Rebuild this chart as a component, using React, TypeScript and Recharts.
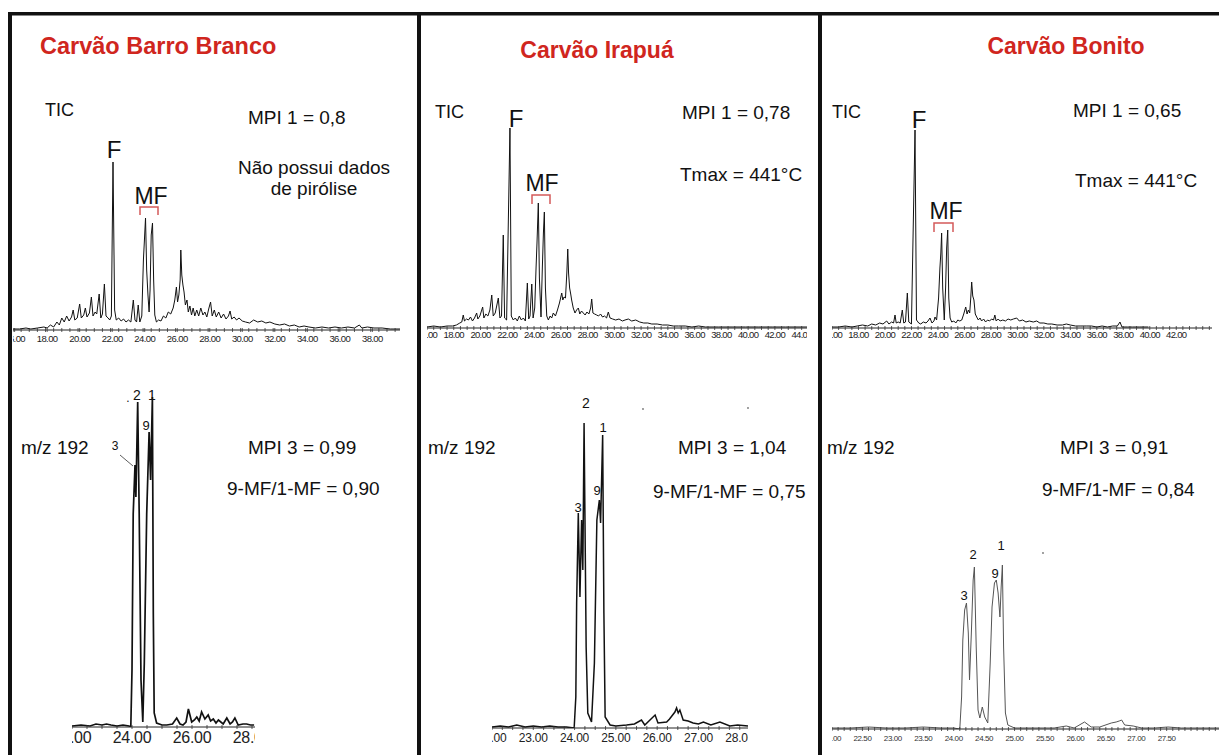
import React from 'react';
import { LineChart, Line, XAxis, YAxis } from 'recharts';

// ---------- DATA (retention time in min, relative abundance) ----------
// TIC — Carvão Barro Branco
const TIC_BB: number[][] = [
  [15.9, 1], [16.3, 1], [16.7, 2], [17.0, 1], [17.4, 2], [17.8, 3], [18.0, 2], [18.2, 5], [18.4, 3], [18.6, 8],
  [18.75, 5], [18.9, 12], [19.05, 8], [19.2, 14], [19.35, 9], [19.5, 13], [19.6, 20], [19.7, 10], [19.85, 12], [20.0, 26],
  [20.1, 12], [20.25, 15], [20.35, 22], [20.45, 13], [20.6, 17], [20.72, 33], [20.82, 14], [20.95, 18], [21.05, 16], [21.2, 36],
  [21.3, 12], [21.4, 16], [21.52, 46], [21.62, 14], [21.75, 12], [21.85, 10], [21.95, 14], [22.05, 168], [22.15, 20], [22.25, 10],
  [22.4, 12], [22.55, 9], [22.7, 11], [22.85, 8], [23.0, 10], [23.15, 8], [23.3, 30], [23.4, 10], [23.5, 8], [23.6, 25],
  [23.7, 8], [23.82, 14], [23.92, 70], [23.97, 86], [24.05, 112], [24.12, 60], [24.2, 35], [24.27, 18], [24.33, 40], [24.4, 95],
  [24.48, 107], [24.55, 50], [24.62, 15], [24.72, 8], [24.85, 10], [25.0, 9], [25.15, 14], [25.3, 12], [25.45, 18], [25.6, 16],
  [25.75, 22], [25.85, 30], [25.95, 43], [26.02, 28], [26.1, 35], [26.18, 50], [26.22, 80], [26.28, 55], [26.35, 45], [26.42, 38],
  [26.5, 25], [26.6, 30], [26.68, 18], [26.78, 24], [26.88, 15], [26.98, 22], [27.08, 14], [27.2, 20], [27.32, 14], [27.45, 22],
  [27.58, 15], [27.7, 18], [27.82, 13], [27.95, 22], [28.05, 28], [28.15, 14], [28.28, 20], [28.4, 13], [28.55, 18], [28.7, 12],
  [28.85, 16], [29.0, 11], [29.15, 14], [29.25, 19], [29.35, 11], [29.5, 13], [29.65, 10], [29.8, 12], [30.0, 9], [30.2, 8],
  [30.45, 7], [30.7, 10], [30.95, 8], [31.2, 9], [31.45, 7], [31.7, 8], [32.0, 6], [32.3, 5], [32.6, 6], [32.9, 4],
  [33.2, 5], [33.5, 3], [33.8, 4], [34.1, 3], [34.5, 2], [34.9, 3], [35.3, 2], [35.7, 3], [36.1, 2], [36.5, 3],
  [36.9, 2], [37.2, 5], [37.35, 2], [37.7, 3], [38.1, 2], [38.6, 2], [39.1, 1], [39.7, 1],
];

// TIC — Carvão Irapuá
const TIC_IR: number[][] = [
  [16.0, 1], [16.5, 2], [17.0, 1], [17.5, 2], [17.9, 2], [18.2, 3], [18.45, 5], [18.6, 6], [18.71, 13], [18.8, 7],
  [18.95, 9], [19.1, 8], [19.25, 11], [19.4, 7], [19.55, 10], [19.71, 15], [19.8, 9], [19.95, 12], [20.16, 21], [20.25, 10],
  [20.4, 14], [20.55, 12], [20.7, 18], [20.84, 33], [20.95, 12], [21.1, 15], [21.33, 30], [21.45, 10], [21.57, 12], [21.7, 93],
  [21.8, 10], [21.95, 8], [22.2, 200], [22.3, 12], [22.45, 8], [22.6, 10], [22.75, 7], [22.9, 12], [23.05, 8], [23.2, 10],
  [23.35, 7], [23.5, 45], [23.6, 9], [23.7, 12], [23.83, 44], [23.93, 10], [24.05, 20], [24.15, 60], [24.22, 85], [24.32, 125],
  [24.4, 50], [24.52, 11], [24.62, 60], [24.7, 95], [24.77, 116], [24.85, 40], [24.95, 12], [25.07, 8], [25.2, 12], [25.32, 10],
  [25.44, 15], [25.6, 12], [25.75, 18], [25.9, 25], [26.07, 35], [26.15, 28], [26.24, 31], [26.35, 30], [26.45, 55], [26.52, 79],
  [26.58, 55], [26.66, 40], [26.74, 34], [26.81, 28], [26.93, 20], [27.06, 15], [27.18, 18], [27.31, 20], [27.42, 14], [27.55, 17],
  [27.68, 15], [27.82, 13], [27.95, 16], [28.1, 14], [28.23, 20], [28.31, 29], [28.4, 15], [28.53, 14], [28.68, 13], [28.82, 12],
  [28.97, 14], [29.12, 11], [29.27, 12], [29.42, 10], [29.55, 16], [29.68, 10], [29.88, 9], [30.1, 8], [30.35, 9], [30.6, 7],
  [30.8, 8], [31.05, 9], [31.3, 7], [31.6, 8], [31.9, 6], [32.2, 5], [32.5, 5], [32.8, 4], [33.2, 4], [33.6, 3],
  [34.0, 3], [34.4, 2], [34.8, 2], [35.3, 2], [35.8, 1], [36.3, 2], [36.8, 1], [37.3, 1], [37.8, 1], [38.8, 1],
  [39.8, 1], [40.8, 1], [41.8, 1], [42.8, 1], [44.4, 1],
];

// TIC — Carvão Bonito
const TIC_BO: number[][] = [
  [16.0, 1], [16.5, 1], [17.0, 2], [17.5, 1], [17.9, 2], [18.3, 3], [18.7, 2], [19.0, 4], [19.3, 3], [19.6, 5],
  [19.85, 4], [20.13, 7], [20.3, 4], [20.5, 6], [20.65, 5], [20.76, 13], [20.85, 5], [21.0, 6], [21.15, 5], [21.31, 18],
  [21.42, 5], [21.55, 6], [21.69, 35], [21.8, 6], [22.0, 4], [22.27, 198], [22.38, 8], [22.55, 5], [22.7, 4], [22.9, 6],
  [23.1, 5], [23.25, 7], [23.4, 10], [23.55, 5], [23.7, 7], [23.78, 11], [23.9, 8], [24.05, 30], [24.15, 60], [24.22, 75],
  [24.28, 95], [24.36, 40], [24.48, 8], [24.58, 40], [24.66, 80], [24.74, 98], [24.82, 30], [24.92, 10], [25.04, 6], [25.2, 7],
  [25.35, 5], [25.5, 8], [25.65, 7], [25.8, 8], [25.95, 14], [26.1, 21], [26.2, 14], [26.3, 18], [26.4, 15], [26.48, 30],
  [26.55, 46], [26.63, 32], [26.72, 28], [26.82, 14], [26.93, 11], [27.05, 8], [27.18, 10], [27.3, 7], [27.45, 9], [27.6, 6],
  [27.75, 8], [27.9, 7], [28.05, 9], [28.2, 8], [28.3, 13], [28.4, 7], [28.55, 9], [28.7, 7], [28.9, 8], [29.1, 7],
  [29.3, 9], [29.5, 8], [29.7, 9], [29.95, 10], [30.15, 7], [30.4, 8], [30.65, 6], [30.9, 7], [31.2, 6], [31.46, 7],
  [31.7, 5], [32.0, 5], [32.3, 4], [32.6, 4], [33.0, 3], [33.4, 3], [33.7, 4], [34.0, 3], [34.4, 2], [34.8, 2],
  [35.2, 2], [35.6, 2], [36.0, 1], [36.4, 2], [36.8, 1], [37.2, 2], [37.55, 2], [37.75, 6], [37.9, 1], [38.3, 1],
  [38.7, 1], [39.2, 1], [39.9, 1],
];

// m/z 192 — Carvão Barro Branco
const MZ_BB: number[][] = [
  [22.0, 1], [22.3, 2], [22.6, 1], [22.8, 3], [23.0, 2], [23.15, 3], [23.3, 2], [23.5, 1], [23.7, 2], [23.9, 1],
  [23.96, 0], [24.0, 57], [24.04, 213], [24.1, 262], [24.13, 230], [24.19, 325], [24.24, 213], [24.3, 47], [24.36, 5], [24.41, 64],
  [24.49, 213], [24.57, 295], [24.62, 247], [24.68, 330], [24.71, 114], [24.74, 14], [24.82, 4], [25.0, 2], [25.16, 2], [25.35, 3],
  [25.49, 9], [25.6, 3], [25.7, 2], [25.8, 5], [25.88, 18], [25.99, 5], [26.08, 7], [26.16, 10], [26.24, 6], [26.32, 15],
  [26.43, 8], [26.54, 12], [26.62, 6], [26.71, 8], [26.8, 4], [26.88, 7], [27.04, 3], [27.16, 9], [27.27, 3], [27.35, 5],
  [27.43, 9], [27.54, 2], [27.7, 3], [27.82, 3], [27.95, 2], [28.07, 2],
];

// m/z 192 — Carvão Irapuá
const MZ_IR: number[][] = [
  [22.0, 1], [22.2, 2], [22.4, 1], [22.6, 3], [22.8, 1], [23.0, 2], [23.2, 1], [23.4, 2], [23.6, 1], [23.8, 1],
  [23.99, 0], [24.03, 31], [24.05, 125], [24.09, 215], [24.13, 131], [24.17, 208], [24.2, 158], [24.23, 305], [24.28, 81], [24.32, 15],
  [24.41, 6], [24.48, 65], [24.54, 208], [24.6, 228], [24.63, 205], [24.68, 293], [24.71, 115], [24.74, 11], [24.86, 3], [25.0, 2],
  [25.26, 3], [25.45, 4], [25.62, 8], [25.7, 3], [25.95, 13], [26.02, 5], [26.23, 6], [26.3, 9], [26.43, 16], [26.47, 20],
  [26.51, 15], [26.55, 18], [26.63, 8], [26.75, 7], [26.87, 5], [27.0, 4], [27.12, 6], [27.3, 3], [27.52, 6], [27.76, 2],
  [27.95, 3], [28.2, 2],
];

// m/z 192 — Carvão Bonito
const MZ_BO: number[][] = [
  [22.0, 1], [22.3, 1], [22.6, 2], [22.9, 1], [23.2, 1], [23.5, 2], [23.8, 1], [24.0, 1], [24.1, 0], [24.13, 32],
  [24.15, 89], [24.18, 119], [24.21, 126], [24.24, 96], [24.26, 49], [24.29, 96], [24.32, 149], [24.34, 162], [24.37, 82], [24.4, 19],
  [24.43, 11], [24.47, 22], [24.51, 12], [24.56, 6], [24.6, 66], [24.63, 122], [24.67, 146], [24.7, 149], [24.73, 136], [24.76, 112],
  [24.78, 142], [24.8, 164], [24.82, 82], [24.85, 16], [24.89, 4], [25.0, 1], [25.3, 1], [25.65, 1], [25.85, 3], [25.98, 1],
  [26.15, 7], [26.26, 2], [26.4, 2], [26.59, 6], [26.67, 7], [26.72, 8], [26.76, 9], [26.81, 4], [26.95, 3], [27.09, 1],
  [27.3, 1], [27.52, 2], [27.74, 1], [28.0, 1], [28.36, 1],
];

// axis tick labels
const TIC_BB_LABELS = [16, 18, 20, 22, 24, 26, 28, 30, 32, 34, 36, 38];
const TIC_IR_LABELS = [16, 18, 20, 22, 24, 26, 28, 30, 32, 34, 36, 38, 40, 42, 44];
const TIC_BO_LABELS = [16, 18, 20, 22, 24, 26, 28, 30, 32, 34, 36, 38, 40, 42];
const MZ_BB_LABELS = [22, 24, 26, 28];
const MZ_IR_LABELS = [22, 23, 24, 25, 26, 27, 28];
const MZ_BO_LABELS = [22, 22.5, 23, 23.5, 24, 24.5, 25, 25.5, 26, 26.5, 27, 27.5];

const PANEL_TITLES = ['Carvão Barro Branco', 'Carvão Irapuá', 'Carvão Bonito'];
const MPI1 = ['MPI 1 = 0,8', 'MPI 1 = 0,78', 'MPI 1 = 0,65'];
const TMAX = ['', 'Tmax = 441°C', 'Tmax = 441°C'];
const MPI3 = ['MPI 3 = 0,99', 'MPI 3 = 1,04', 'MPI 3 = 0,91'];
const RATIO = ['9-MF/1-MF = 0,90', '9-MF/1-MF = 0,75', '9-MF/1-MF = 0,84'];

// ---------- helpers ----------
const FONT = '"Liberation Sans", Arial, Helvetica, sans-serif';
const RED = '#d0261e';

const toRows = (pairs: number[][]) => pairs.map(([t, v]) => ({ t, v }));

function buildTicks(domain: [number, number], step: number, labels: number[]) {
  const out: number[] = [];
  const n = Math.floor((domain[1] - domain[0]) / step + 1e-6);
  for (let i = 0; i <= n; i++) out.push(Math.round((domain[0] + i * step) * 1000) / 1000);
  labels.forEach((l) => {
    if (l >= domain[0] - 1e-6 && l <= domain[1] + 1e-6 && !out.some((o) => Math.abs(o - l) < 1e-6)) out.push(l);
  });
  return out.sort((a, b) => a - b);
}

type ChromProps = {
  left: number; top: number; width: number; plotH: number; axisH: number;
  domain: [number, number]; yMax: number; pairs: number[][];
  stroke: string; strokeWidth: number; labels: number[]; minorStep: number;
  fontSize: number; labelDy: number; spacing: number; labelColor: string;
};

function Chrom(p: ChromProps) {
  const data = toRows(p.pairs);
  const ticks = buildTicks(p.domain, p.minorStep, p.labels);
  const renderTick = (tp: any) => {
    const { x, y, payload } = tp;
    const v = payload.value as number;
    const isLabel = p.labels.some((m) => Math.abs(m - v) < 1e-6);
    return (
      <g key={`t-${v}`}>
        <line x1={x} x2={x} y1={y - 2} y2={y + 2} stroke="#333" strokeWidth={0.8} />
        {isLabel && (
          <text x={x} y={y + p.labelDy} textAnchor="middle" fontSize={p.fontSize} fill={p.labelColor}
            letterSpacing={p.spacing} fontFamily={FONT}>{v.toFixed(2)}</text>
        )}
      </g>
    );
  };
  return (
    <div style={{ position: 'absolute', left: p.left, top: p.top, width: p.width, height: p.plotH + p.axisH, overflow: 'hidden' }}>
      <LineChart width={p.width} height={p.plotH + p.axisH} data={data} margin={{ top: 0, right: 0, bottom: 0, left: 0 }}>
        <XAxis dataKey="t" type="number" domain={p.domain} allowDataOverflow ticks={ticks} interval={0}
          height={p.axisH} tickSize={0} tickMargin={0} tickLine={false}
          axisLine={{ stroke: '#222', strokeWidth: 1 }} tick={renderTick} />
        <YAxis hide domain={[0, p.yMax]} allowDataOverflow />
        <Line type="linear" dataKey="v" stroke={p.stroke} strokeWidth={p.strokeWidth} dot={false}
          isAnimationActive={false} />
      </LineChart>
    </div>
  );
}

function T(props: { x: number; y: number; size: number; anchor?: 'start' | 'middle' | 'end'; color?: string; bold?: boolean; children: React.ReactNode }) {
  return (
    <text x={props.x} y={props.y} fontSize={props.size} textAnchor={props.anchor || 'start'} dominantBaseline="central"
      fill={props.color || '#111'} fontWeight={props.bold ? 'bold' : 'normal'} fontFamily={FONT}>{props.children}</text>
  );
}

function Bracket({ x1, x2, y1, y2 }: { x1: number; x2: number; y1: number; y2: number }) {
  return <polyline points={`${x1},${y2} ${x1},${y1} ${x2},${y1} ${x2},${y2}`} fill="none" stroke="#d45a5a" strokeWidth={1.5} />;
}

export default function App() {
  return (
    <div style={{ position: 'absolute', left: 0, top: 0, width: 1219, height: 755, background: '#fff', overflow: 'hidden', fontFamily: FONT }}>
      {/* TIC */}
      <Chrom left={13} top={140} width={387} plotH={190} axisH={22} domain={[15.9, 39.7]} yMax={190} pairs={TIC_BB}
        stroke="#111" strokeWidth={1} labels={TIC_BB_LABELS} minorStep={0.5} fontSize={9.5} labelDy={12} spacing={-0.6} labelColor="#222" />
      <Chrom left={427} top={120} width={380} plotH={208} axisH={22} domain={[16, 44.4]} yMax={208} pairs={TIC_IR}
        stroke="#111" strokeWidth={1} labels={TIC_IR_LABELS} minorStep={0.5} fontSize={9.5} labelDy={10} spacing={-0.7} labelColor="#222" />
      <Chrom left={832} top={120} width={380} plotH={208} axisH={22} domain={[16, 44.7]} yMax={208} pairs={TIC_BO}
        stroke="#111" strokeWidth={1} labels={TIC_BO_LABELS} minorStep={0.5} fontSize={9.5} labelDy={10} spacing={-0.7} labelColor="#222" />
      {/* m/z 192 */}
      <Chrom left={72} top={390} width={183} plotH={337} axisH={26} domain={[22, 28.1]} yMax={337} pairs={MZ_BB}
        stroke="#111" strokeWidth={1.7} labels={MZ_BB_LABELS} minorStep={0.5} fontSize={16} labelDy={16} spacing={-0.3} labelColor="#222" />
      <Chrom left={492} top={395} width={256} plotH={333} axisH={26} domain={[22, 28.2]} yMax={333} pairs={MZ_IR}
        stroke="#111" strokeWidth={1.5} labels={MZ_IR_LABELS} minorStep={0.25} fontSize={12} labelDy={14} spacing={-0.2} labelColor="#222" />
      <Chrom left={832} top={395} width={387} plotH={334} axisH={26} domain={[22, 28.36]} yMax={334} pairs={MZ_BO}
        stroke="#555" strokeWidth={1} labels={MZ_BO_LABELS} minorStep={0.1} fontSize={8} labelDy={12} spacing={-0.4} labelColor="#333" />

      <svg width={1219} height={755} style={{ position: 'absolute', left: 0, top: 0, pointerEvents: 'none' }}>
        {/* frame */}
        <rect x={8} y={12} width={1211} height={3.5} fill="#111" />
        <rect x={8} y={12} width={4} height={743} fill="#111" />
        <rect x={417} y={12} width={4} height={743} fill="#111" />
        <rect x={818} y={12} width={4} height={743} fill="#111" />

        {/* titles */}
        <T x={40} y={46} size={23.5} bold color={RED}>{PANEL_TITLES[0]}</T>
        <T x={597} y={50} size={23} bold color={RED} anchor="middle">{PANEL_TITLES[1]}</T>
        <T x={1066} y={46} size={23} bold color={RED} anchor="middle">{PANEL_TITLES[2]}</T>

        {/* panel 1 */}
        <T x={45} y={110} size={18}>TIC</T>
        <T x={248} y={117} size={19}>{MPI1[0]}</T>
        <T x={314} y={167} size={19} anchor="middle">Não possui dados</T>
        <T x={314} y={188} size={19} anchor="middle">de pirólise</T>
        <T x={114} y={149} size={24} anchor="middle">F</T>
        <T x={151} y={196} size={23} anchor="middle">MF</T>
        <Bracket x1={140} x2={158} y1={207} y2={215} />
        <T x={21} y={447} size={19}>m/z 192</T>
        <T x={248} y={447} size={19}>{MPI3[0]}</T>
        <T x={227} y={488} size={19}>{RATIO[0]}</T>
        <T x={115} y={446} size={12} anchor="middle">3</T>
        <line x1={120} y1={455} x2={133} y2={466} stroke="#333" strokeWidth={0.8} />
        <T x={128} y={398} size={12} anchor="middle">.</T>
        <T x={137} y={395} size={14} anchor="middle">2</T>
        <T x={152} y={395} size={14} anchor="middle">1</T>
        <T x={146} y={425} size={13} anchor="middle">9</T>

        {/* panel 2 */}
        <T x={435} y={112} size={18}>TIC</T>
        <T x={682} y={112} size={19}>{MPI1[1]}</T>
        <T x={680} y={174} size={19}>{TMAX[1]}</T>
        <T x={516} y={118} size={24} anchor="middle">F</T>
        <T x={542} y={183} size={23} anchor="middle">MF</T>
        <Bracket x1={532} x2={550} y1={195} y2={204} />
        <T x={428} y={447} size={19}>m/z 192</T>
        <T x={678} y={447} size={19}>{MPI3[1]}</T>
        <T x={653} y={491} size={19}>{RATIO[1]}</T>
        <T x={586} y={403} size={14} anchor="middle">2</T>
        <T x={603} y={427} size={13} anchor="middle">1</T>
        <T x={597} y={490} size={13} anchor="middle">9</T>
        <T x={578} y={507} size={13} anchor="middle">3</T>
        <circle cx={643} cy={409} r={0.9} fill="#777" />
        <circle cx={748} cy={408} r={0.9} fill="#777" />

        {/* panel 3 */}
        <T x={832} y={112} size={18}>TIC</T>
        <T x={1073} y={110} size={19}>{MPI1[2]}</T>
        <T x={1075} y={180} size={19}>{TMAX[2]}</T>
        <T x={919} y={119} size={24} anchor="middle">F</T>
        <T x={946} y={211} size={23} anchor="middle">MF</T>
        <Bracket x1={934} x2={953} y1={223} y2={232} />
        <T x={827} y={447} size={19}>m/z 192</T>
        <T x={1060} y={447} size={19}>{MPI3[2]}</T>
        <T x={1042} y={489} size={19}>{RATIO[2]}</T>
        <T x={964} y={595} size={13} anchor="middle">3</T>
        <T x={973} y={554} size={13} anchor="middle">2</T>
        <T x={995} y={573} size={13} anchor="middle">9</T>
        <T x={1001} y={545} size={13} anchor="middle">1</T>
        <circle cx={1043} cy={553} r={0.9} fill="#777" />
      </svg>
    </div>
  );
}
